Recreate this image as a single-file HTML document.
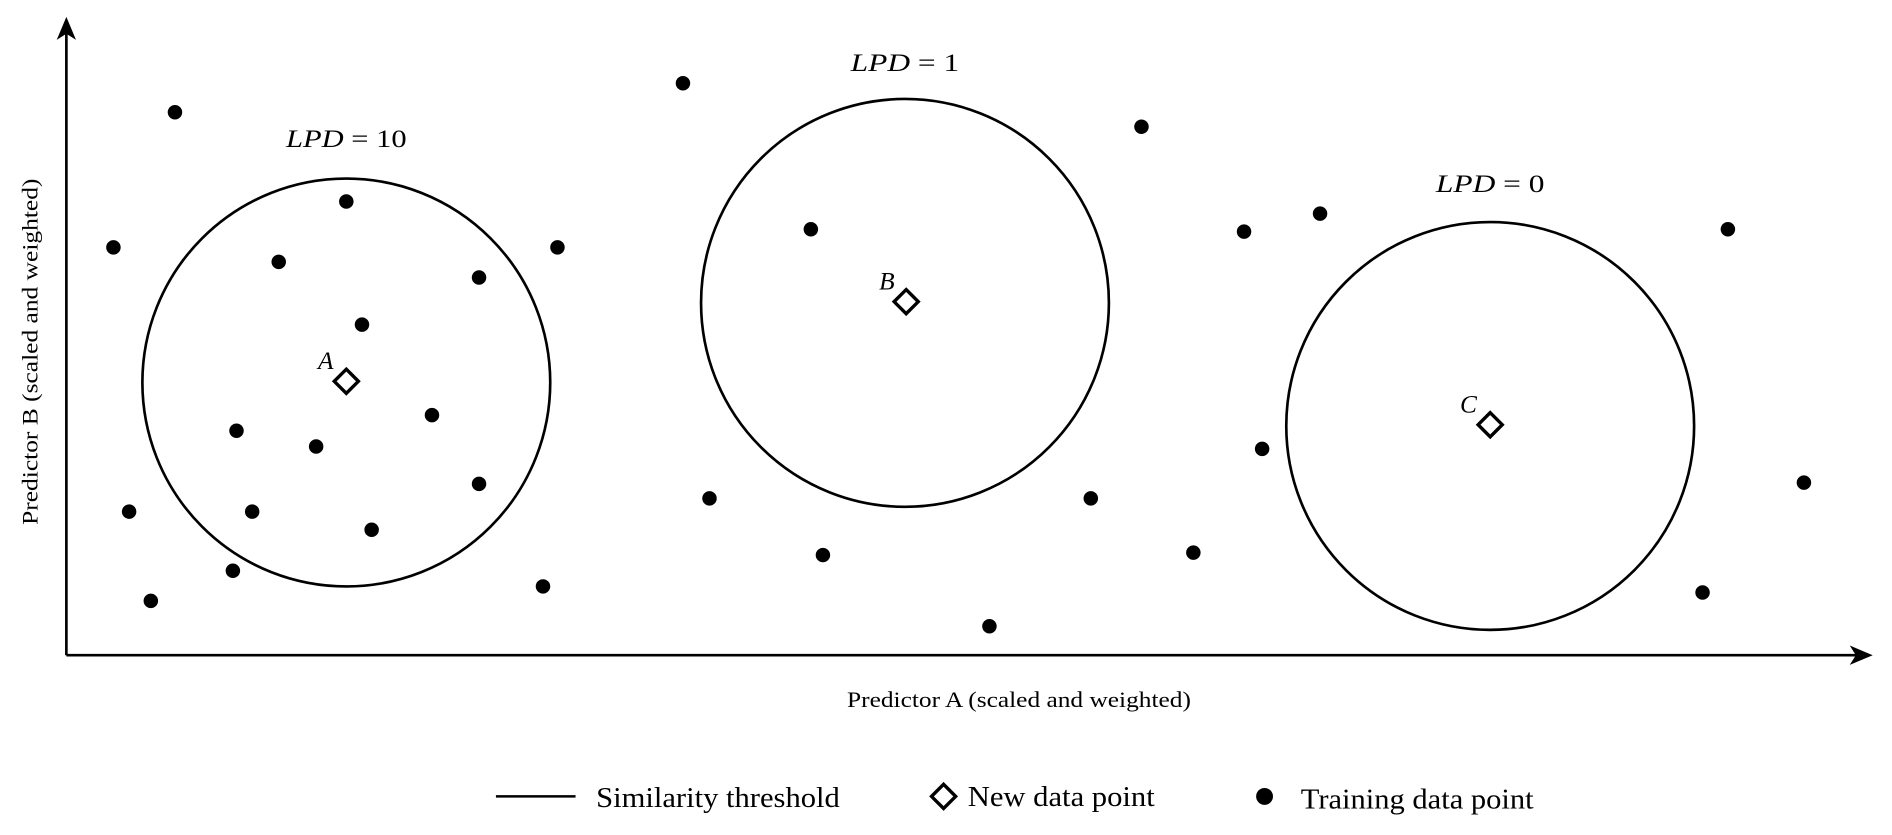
<!DOCTYPE html>
<html><head><style>html,body{margin:0;padding:0;background:#fff}svg{display:block}</style></head>
<body>
<svg width="1892" height="835" viewBox="0 0 1568 692" preserveAspectRatio="none" xmlns="http://www.w3.org/2000/svg" font-family="Liberation Serif, serif">
<rect width="1568" height="692" fill="#fff"/>
<g stroke="#000" stroke-width="2.2" fill="none">
<line x1="55" y1="543" x2="55" y2="24"/>
<line x1="55" y1="543" x2="1540" y2="543"/>
<circle cx="287" cy="317" r="169"/>
<circle cx="750" cy="251" r="169"/>
<circle cx="1235" cy="353" r="169"/>
</g>
<polygon points="55,14 47,33 55,28 63,33" fill="#000"/>
<polygon points="1552,543 1533,535 1538,543 1533,551" fill="#000"/>
<g fill="#000">
<circle cx="145" cy="93" r="6"/><circle cx="94" cy="205" r="6"/><circle cx="287" cy="167" r="6"/><circle cx="231" cy="217" r="6"/><circle cx="397" cy="230" r="6"/><circle cx="462" cy="205" r="6"/><circle cx="300" cy="269" r="6"/><circle cx="358" cy="344" r="6"/><circle cx="196" cy="357" r="6"/><circle cx="262" cy="370" r="6"/><circle cx="397" cy="401" r="6"/><circle cx="107" cy="424" r="6"/><circle cx="209" cy="424" r="6"/><circle cx="308" cy="439" r="6"/><circle cx="193" cy="473" r="6"/><circle cx="125" cy="498" r="6"/><circle cx="450" cy="486" r="6"/><circle cx="566" cy="69" r="6"/><circle cx="672" cy="190" r="6"/><circle cx="946" cy="105" r="6"/><circle cx="588" cy="413" r="6"/><circle cx="682" cy="460" r="6"/><circle cx="904" cy="413" r="6"/><circle cx="820" cy="519" r="6"/><circle cx="989" cy="458" r="6"/><circle cx="1031" cy="192" r="6"/><circle cx="1094" cy="177" r="6"/><circle cx="1046" cy="372" r="6"/><circle cx="1432" cy="190" r="6"/><circle cx="1495" cy="400" r="6"/><circle cx="1411" cy="491" r="6"/>
<circle cx="1048" cy="660" r="7"/>
</g>
<g stroke="#000" stroke-width="2.8" fill="#fff">
<polygon points="287,306 297,316 287,326 277,316"/>
<polygon points="751,240 761,250 751,260 741,250"/>
<polygon points="1235,342 1245,352 1235,362 1225,352"/>
<polygon points="782,650 792,660 782,670 772,660"/>
</g>
<g font-style="italic" font-size="21" fill="#000">
<text x="270" y="306" text-anchor="middle">A</text>
<text x="735" y="240" text-anchor="middle">B</text>
<text x="1217" y="342" text-anchor="middle">C</text>
</g>
<g font-size="21" fill="#000">
<text x="237" y="122" textLength="100" lengthAdjust="spacingAndGlyphs"><tspan font-style="italic">LPD</tspan> = 10</text>
<text x="705" y="59" textLength="90" lengthAdjust="spacingAndGlyphs"><tspan font-style="italic">LPD</tspan> = 1</text>
<text x="1190" y="159" textLength="90" lengthAdjust="spacingAndGlyphs"><tspan font-style="italic">LPD</tspan> = 0</text>
</g>
<text x="702" y="586" font-size="18" textLength="285" lengthAdjust="spacingAndGlyphs">Predictor A (scaled and weighted)</text>
<text transform="translate(31,435) rotate(-90)" font-size="18" textLength="287" lengthAdjust="spacingAndGlyphs">Predictor B (scaled and weighted)</text>
<line x1="411" y1="660" x2="477" y2="660" stroke="#000" stroke-width="2"/>
<g font-size="24" fill="#000">
<text x="494" y="669" textLength="202" lengthAdjust="spacingAndGlyphs">Similarity threshold</text>
<text x="802" y="668" textLength="155" lengthAdjust="spacingAndGlyphs">New data point</text>
<text x="1078" y="670" textLength="193" lengthAdjust="spacingAndGlyphs">Training data point</text>
</g>
</svg>
</body></html>
